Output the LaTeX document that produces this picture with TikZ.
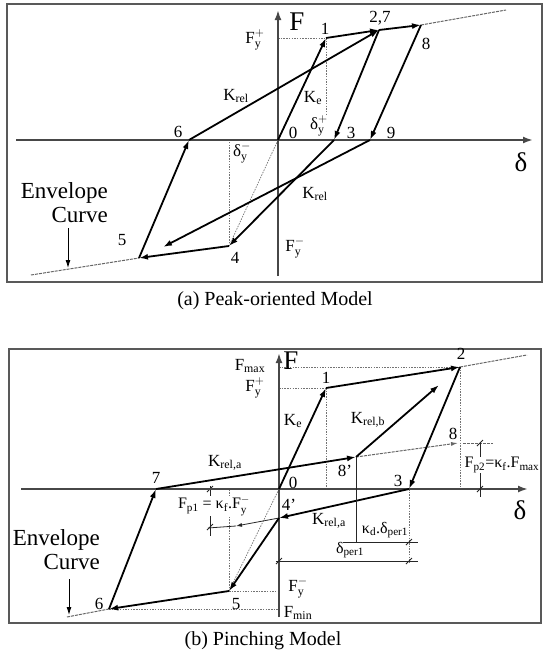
\documentclass[tikz,border=0pt]{standalone}
\usepackage{amsmath}
\usepackage{fontspec}
\setmainfont{Liberation Serif}
\usetikzlibrary{arrows.meta,calc}
\begin{document}
\begin{tikzpicture}[x=1pt,y=-1pt,
  curveline/.style={line width=1.8pt, black},
  arr/.style={curveline,-{Latex[length=9pt,width=6pt]}},
  axisline/.style={line width=2.3pt, black!72, -{Latex[length=10pt,width=7pt]}},
  boxframe/.style={line width=1.6pt, black!65},
  guide/.style={black!55, line width=0.7pt, dash pattern=on 1.5pt off 1.2pt},
  envline/.style={black!60, line width=1pt, dash pattern=on 3pt off 1pt},
  dimline/.style={black!85, line width=0.8pt},
  lbl/.style={inner sep=0.5pt, font=\fontsize{17}{17}\selectfont},
  sml/.style={inner sep=0.5pt, font=\fontsize{16}{16}\selectfont},
  big/.style={inner sep=0pt, font=\fontsize{27}{27}\selectfont},
  envtxt/.style={inner sep=0pt, align=right, font=\fontsize{23}{24}\selectfont},
  captxt/.style={inner sep=0pt, font=\fontsize{20}{20}\selectfont},
  tk/.pic={\draw[black!85, line width=0.8pt] (-3,3) -- (3,-3);}
]
\useasboundingbox (0,0) rectangle (545,656);

% ================= (a) Peak-oriented =================
\draw[boxframe] (7,4) rectangle (542,282);
\coordinate (aO) at (278,140);
\coordinate (aX0) at (16,140);
\coordinate (aX1) at (533,140);
\coordinate (aY0) at (278,276);
\coordinate (aY1) at (278,10);
\coordinate (a1) at (326,38);
\coordinate (a2) at (379,30);
\coordinate (a8) at (421,25);
\coordinate (a3) at (334,140);
\coordinate (a9) at (370,140);
\coordinate (a6) at (189,140);
\coordinate (a4) at (229,246);
\coordinate (a5) at (139,258);
\coordinate (aE1) at (31,275);
\coordinate (aE2) at (506,10);
\coordinate (a9e) at (163,247);
\coordinate (a1d) at (326,115);
\coordinate (aEv0) at (68,228);
\coordinate (aEv1) at (68,268);

\draw[guide] (aO |- a1) -- (a1);
\draw[guide] (a1) -- (a1d);
\draw[guide] (a4) -- (a4 |- aO);
\draw[guide] (aO) -- (a4);
\draw[envline] (aE1) -- (a5);
\draw[envline] (a8) -- (aE2);
\draw[axisline] (aX0) -- (aX1);
\draw[axisline] (aY0) -- (aY1);

\draw[arr] (aO) -- (a1);
\draw[arr] (a1) -- (a2);
\draw[arr] (a2) -- (a8);
\draw[arr] (a2) -- (a3);
\draw[arr] (a3) -- (a4);
\draw[arr] (a4) -- (a5);
\draw[arr] (a5) -- (a6);
\draw[arr] (a6) -- (a2);
\draw[arr] (a8) -- (a9);
\draw[arr] (a9) -- (a9e);
\draw[black, line width=0.9pt, -{Latex[length=8pt,width=5pt]}] (aEv0) -- (aEv1);

\node[big] (aF) at (297,22) {F};
\node[big] (aD) at (521,162) {δ};
\node[lbl] (aL1) at (325,29) {1};
\node[lbl] (aL27) at (380,18) {2,7};
\node[lbl] (aL8) at (426,44) {8};
\node[lbl] (aFyp) at (255,40) {$\mathrm{F}_{\mathrm{y}}^{+}$};
\node[lbl] (aKr1) at (236,96) {$\mathrm{K}_{\text{rel}}$};
\node[lbl] (aKe) at (313,98) {$\mathrm{K}_{\mathrm{e}}$};
\node[lbl] (aDyp) at (319,126) {$\text{δ}_{\mathrm{y}}^{+}$};
\node[lbl] (aL0) at (293,133) {0};
\node[lbl] (aL3) at (351,133) {3};
\node[lbl] (aL9) at (391,133) {9};
\node[lbl] (aL6) at (178,132) {6};
\node[lbl] (aDym) at (242,153) {$\text{δ}_{\mathrm{y}}^{-}$};
\node[lbl] (aKr2) at (315,194) {$\mathrm{K}_{\text{rel}}$};
\node[lbl] (aFym) at (295,248) {$\mathrm{F}_{\mathrm{y}}^{-}$};
\node[lbl] (aL4) at (235,258) {4};
\node[lbl] (aL5) at (122,240) {5};
\node[envtxt, anchor=east] (aEnv) at (108,203) {Envelope\\Curve};
\node[captxt] (aCap) at (275,301) {(a) Peak-oriented Model};

% ================= (b) Pinching =================
\draw[boxframe] (9,349) rectangle (541,623);
\coordinate (bO) at (279,489);
\coordinate (bX0) at (21,489);
\coordinate (bX1) at (528,489);
\coordinate (bY0) at (279,617);
\coordinate (bY1) at (279,353);
\coordinate (b1) at (326,388);
\coordinate (b2) at (460,367);
\coordinate (b3) at (409,489);
\coordinate (b4p) at (279,518);
\coordinate (b5) at (229,591);
\coordinate (b6) at (109,609);
\coordinate (b7) at (156,489);
\coordinate (b8p) at (356,457);
\coordinate (b8) at (458,443);
\coordinate (bkb) at (439,385);
\coordinate (bE1) at (67,617);
\coordinate (bE2) at (527,355);
\coordinate (bp1a) at (236,526);
\coordinate (bp1) at (208,528);
\coordinate (bEv0) at (69,579);
\coordinate (bEv1) at (69,615);
\coordinate (bkd0) at (343,542);
\coordinate (bkd1) at (418,542);
\coordinate (bdp0) at (276,561);
\coordinate (bdp1) at (418,561);
\coordinate (b8pd) at (356,542);
\coordinate (b3d) at (409,564);
\coordinate (bfp2a) at (480,442);
\coordinate (bfp2b) at (480,497);
\coordinate (bfp2e0) at (463,443);
\coordinate (bfp2e1) at (493,443);
\coordinate (bfp1a) at (210,486);
\coordinate (bfp1b) at (210,536);

\draw[guide] (bO |- b2) -- (b2);
\draw[guide] (bO |- b1) -- (b1);
\draw[guide] (b1) -- (b1 |- bO);
\draw[guide] (b2) -- (b2 |- bO);
\draw[guide] (b5) -- (b5 |- bO);
\draw[guide] (b5) -- (b5 -| bO);
\draw[guide] (b6) -- (b6 -| bO);
\draw[guide] (bO) -- (b5);
\draw[guide] (b3) -- (b3d);
\draw[envline] (bE1) -- (b6);
\draw[envline] (b2) -- (bE2);
\draw[envline, -{Latex[length=7pt,width=4pt]}] (b8p) -- (b8);
\draw[envline] (bfp2e0) -- (bfp2e1);
\draw[dimline] (bfp1a) -- (bfp1b);
\pic at (210,489) {tk};
\pic at (210,527) {tk};
\draw[dimline, -{Latex[length=6pt,width=4pt]}] (b4p) -- (bp1a);
\draw[dimline] (bp1a) -- (bp1);

\draw[axisline] (bX0) -- (bX1);
\draw[axisline] (bY0) -- (bY1);

\draw[arr] (bO) -- (b1);
\draw[arr] (b1) -- (b2);
\draw[arr] (b2) -- (b3);
\draw[arr] (b3) -- (b4p);
\draw[arr] (b4p) -- (b5);
\draw[arr] (b5) -- (b6);
\draw[arr] (b6) -- (b7);
\draw[arr] (b7) -- (b8p);
\draw[arr] (b8p) -- (bkb);
\draw[black, line width=0.9pt, -{Latex[length=8pt,width=5pt]}] (bEv0) -- (bEv1);

\draw[dimline] (b8p) -- (b8pd);
\draw[dimline] (bkd0) -- (bkd1);
\draw[dimline] (bdp0) -- (bdp1);
\pic at (409,542) {tk};
\pic at (409,561) {tk};
\pic at (279,561) {tk};
\draw[dimline] (bfp2a) -- (bfp2b);
\pic at (480,443) {tk};
\pic at (480,489) {tk};

\node[big] (bF) at (291,361) {F};
\node[big] (bD) at (520,510) {δ};
\node[lbl] (bFmax) at (250,366) {$\mathrm{F}_{\text{max}}$};
\node[lbl] (bFyp) at (255,388) {$\mathrm{F}_{\mathrm{y}}^{+}$};
\node[lbl] (bL2) at (461,354) {2};
\node[lbl] (bL1) at (326,378) {1};
\node[lbl] (bKe) at (293,421) {$\mathrm{K}_{\mathrm{e}}$};
\node[lbl] (bKrb) at (368,420) {$\mathrm{K}_{\text{rel,b}}$};
\node[lbl] (bL8) at (453,434) {8};
\node[lbl] (bKra1) at (225,463) {$\mathrm{K}_{\text{rel,a}}$};
\node[lbl] (bL8p) at (345,471) {8'};
\node[lbl] (bL7) at (156,478) {7};
\node[lbl] (bL0) at (293,483) {0};
\node[lbl] (bL3) at (398,481) {3};
\node[sml, fill=white] (bFp2) at (502,465) {$\mathrm{F}_{\text{p2}}\text{=κ}_{\text{f}}\text{.F}_{\text{max}}$};
\node[lbl] (bL4p) at (289,505) {4'};
\node[sml, fill=white] (bFp1) at (214,506) {$\mathrm{F}_{\text{p1}}\text{ = κ}_{\text{f}}\text{.F}_{\mathrm{y}}^{-}$};
\node[lbl] (bKra2) at (329,521) {$\mathrm{K}_{\text{rel,a}}$};
\node[sml] (bkdl) at (385,530) {$\text{κ}_{\text{d}}\text{.δ}_{\text{per1}}$};
\node[sml] (bdpl) at (350,550) {$\text{δ}_{\text{per1}}$};
\node[lbl] (bFym) at (298,588) {$\mathrm{F}_{\mathrm{y}}^{-}$};
\node[lbl] (bL5) at (236,604) {5};
\node[lbl] (bL6) at (99,604) {6};
\node[lbl] (bFmin) at (298,613) {$\mathrm{F}_{\text{min}}$};
\node[envtxt, anchor=east] (bEnv) at (100,550) {Envelope\\Curve};
\node[captxt] (bCap) at (263,641) {(b) Pinching Model};
\end{tikzpicture}
\end{document}
